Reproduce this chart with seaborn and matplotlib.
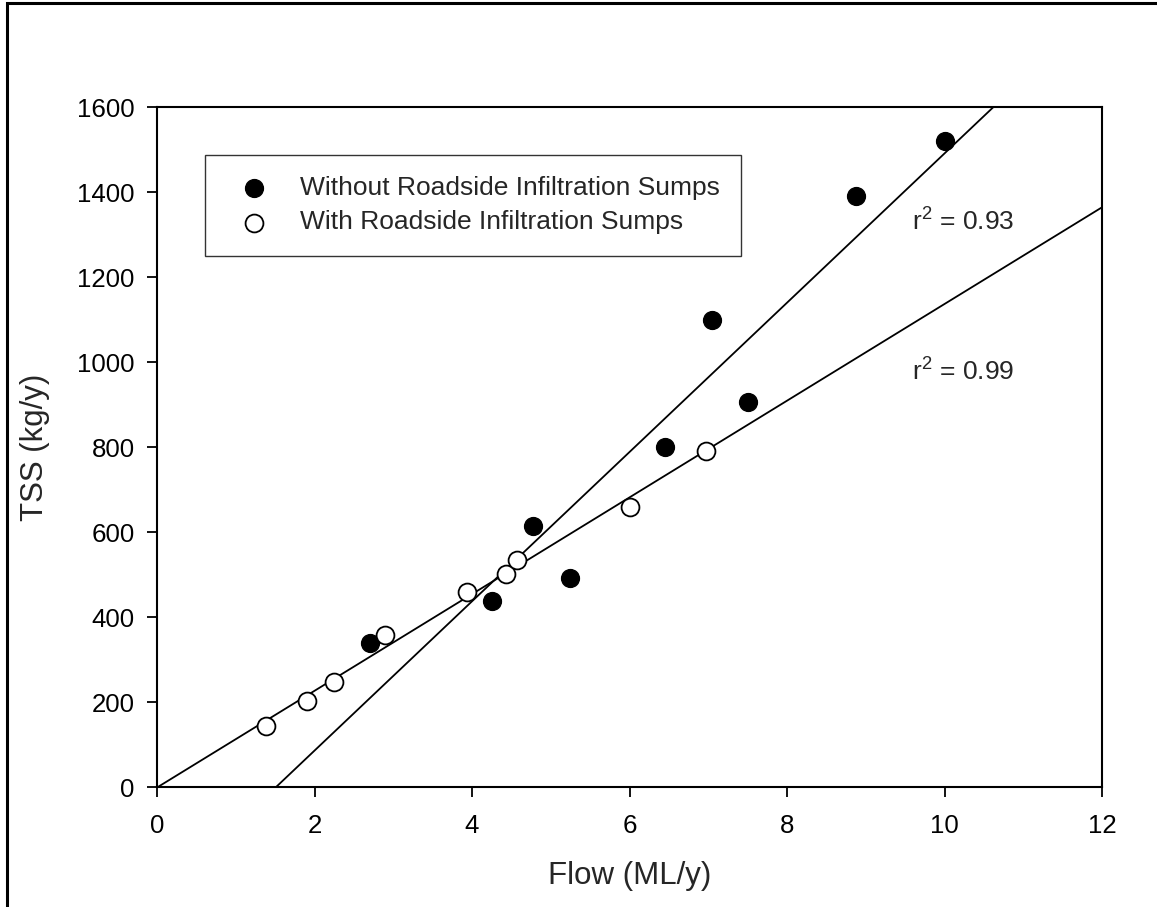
import numpy as np
import pandas as pd
import seaborn as sns
import matplotlib
matplotlib.use("Agg")
import matplotlib.pyplot as plt
from matplotlib.patches import Rectangle

# values
flow_without = [2.70, 4.25, 4.77, 5.25, 6.45, 7.05, 7.50, 8.88, 10.00]
tss_without = [338, 437, 613, 491, 801, 1100, 905, 1390, 1520]
flow_with = [1.38, 1.90, 2.25, 2.90, 3.93, 4.43, 4.57, 6.00, 6.97]
tss_with = [143, 202, 248, 357, 460, 502, 533, 660, 790]

label_without = "Without Roadside Infiltration Sumps"
label_with = "With Roadside Infiltration Sumps"
r2_labels = ["r$^{\\mathregular{2}}$ = 0.93", "r$^{\\mathregular{2}}$ = 0.99"]

x_ticks = [0, 2, 4, 6, 8, 10, 12]
y_ticks = [0, 200, 400, 600, 800, 1000, 1200, 1400, 1600]

df_without = pd.DataFrame({"flow": flow_without, "tss": tss_without})
df_with = pd.DataFrame({"flow": flow_with, "tss": tss_with})

sns.set_style("white")
plt.rcParams["font.family"] = ["Liberation Sans", "DejaVu Sans"]
plt.rcParams["mathtext.fontset"] = "custom"
plt.rcParams["mathtext.rm"] = "Liberation Sans"

fig = plt.figure(figsize=(11.57, 9.07), dpi=100)
ax = fig.add_axes([0.1357, 0.1323, 0.8168, 0.7497])
ax.set_xlim(0, 12)
ax.set_ylim(0, 1600)

# regression lines across the whole x range
sns.regplot(data=df_without, x="flow", y="tss", ax=ax, scatter=False, ci=None,
            truncate=False, color="black", line_kws={"lw": 1.3})
sns.regplot(data=df_with, x="flow", y="tss", ax=ax, scatter=False, ci=None,
            truncate=False, color="black", line_kws={"lw": 1.3})

# points
sns.scatterplot(data=df_without, x="flow", y="tss", ax=ax, s=165, color="black",
                edgecolor="black", linewidth=1.0, label=label_without, zorder=3)
sns.scatterplot(data=df_with, x="flow", y="tss", ax=ax, s=165, facecolor="white",
                edgecolor="black", linewidth=1.3, label=label_with, zorder=3)

ax.set_xlim(0, 12)
ax.set_ylim(0, 1600)
ax.set_xticks(x_ticks)
ax.set_yticks(y_ticks)

for s in ax.spines.values():
    s.set_color("black")
    s.set_linewidth(1.5)

ax.tick_params(axis="both", direction="out", length=7.2, width=1.3, colors="black",
               labelsize=18.6, bottom=True, left=True, top=False, right=False)
ax.tick_params(axis="x", pad=12)
ax.tick_params(axis="y", pad=9)

ax.set_xlabel("Flow (ML/y)", fontsize=22.5)
ax.set_ylabel("TSS (kg/y)", fontsize=22.5)
ax.xaxis.set_label_coords(0.5, -0.109)
ax.yaxis.set_label_coords(-0.113, 0.5)

ax.text(9.59, 1332, r2_labels[0], fontsize=19, va="center", ha="left")
ax.text(9.59, 979, r2_labels[1], fontsize=19, va="center", ha="left")

leg = ax.legend(loc="upper left", bbox_to_anchor=(0.0508, 0.929), borderaxespad=0,
                fontsize=19, frameon=True, fancybox=False, borderpad=0.8,
                handlelength=2.1, handletextpad=0.7, labelspacing=0.38)
leg.get_frame().set_edgecolor("black")
leg.get_frame().set_linewidth(1.0)

# outer frame around the figure
fig.patches.append(Rectangle((7 / 1157, -0.05), 1.1, 1.0467, transform=fig.transFigure,
                             fill=False, edgecolor="black", lw=2.2, clip_on=False))

fig.savefig("out.png", dpi=100)
